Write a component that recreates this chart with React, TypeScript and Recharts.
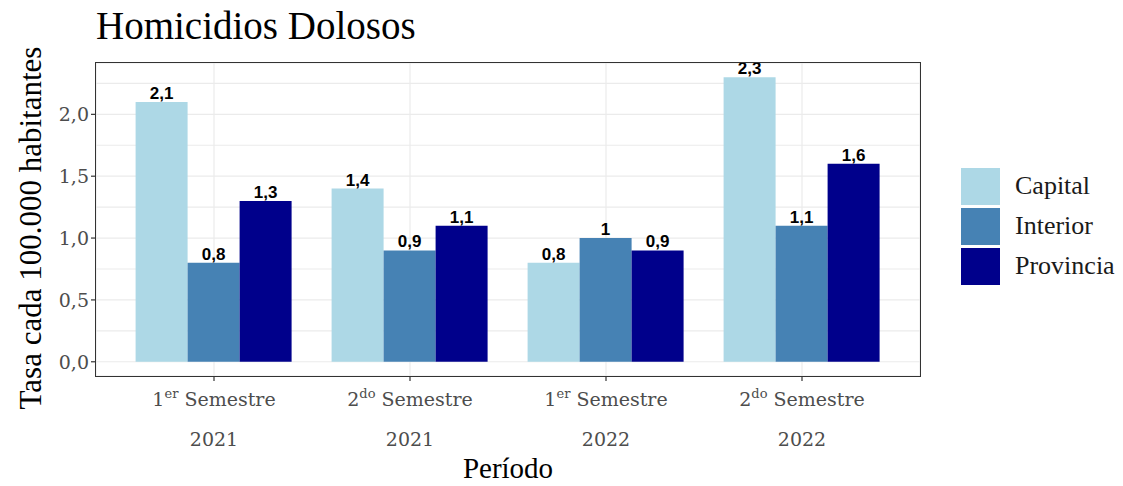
import React from 'react';
import {
  BarChart, Bar, XAxis, YAxis, CartesianGrid, LabelList
} from 'recharts';

// periods on the x axis (ordinal part, superscript, year)
const semesterNum = ['1', '2', '1', '2'];
const semesterSup = ['er', 'do', 'er', 'do'];
const years = ['2021', '2021', '2022', '2022'];

// rates per 100.000 inhabitants
const capital = [2.1, 1.4, 0.8, 2.3];
const interior = [0.8, 0.9, 1.0, 1.1];
const provincia = [1.3, 1.1, 0.9, 1.6];

const yTicks = [0, 0.5, 1, 1.5, 2];
const gridTicks = [0, 0.25, 0.5, 0.75, 1, 1.25, 1.5, 1.75, 2, 2.25];
const yDomain = [-0.115, 2.415];

const series = [
  { key: 'Capital', color: '#ADD8E6' },
  { key: 'Interior', color: '#4682B4' },
  { key: 'Provincia', color: '#00008B' },
];

const data = years.map((y, i) => ({
  period: `${semesterNum[i]}${semesterSup[i]} Semestre ${y}`,
  Capital: capital[i],
  Interior: interior[i],
  Provincia: provincia[i],
}));

const serif = '"Liberation Serif", "Times New Roman", serif';
const tickSerif = '"DejaVu Serif", serif';
const border = '#333333';
const comma = (v: any) => String(v).replace('.', ',');

const PeriodTick = ({ x, y, payload }: any) => {
  const i = payload.index;
  return (
    <g transform={`translate(${x},${y})`}>
      <text textAnchor="middle" fontFamily={tickSerif} fontSize={19} fill="#4d4d4d">
        <tspan x={0} dy={23}>{semesterNum[i]}</tspan>
        <tspan dy={-8} fontSize={13}>{semesterSup[i]}</tspan>
        <tspan dy={8}> Semestre</tspan>
      </text>
      <text x={0} y={63} textAnchor="middle" fontFamily={tickSerif} fontSize={19} fill="#4d4d4d">
        {years[i]}
      </text>
    </g>
  );
};

export default function App() {
  return (
    <div style={{ position: 'absolute', left: 0, top: 0, width: 1123, height: 486, background: '#fff' }}>
      <div style={{ position: 'absolute', left: 96, top: 3, fontFamily: serif, fontSize: 39, color: '#000', lineHeight: 1.2 }}>
        Homicidios Dolosos
      </div>
      <div style={{ position: 'absolute', left: 961, top: 166, fontFamily: serif, fontSize: 26, color: '#1a1a1a' }}>
        {series.map((s) => (
          <div key={s.key} style={{ display: 'flex', alignItems: 'center', height: 40 }}>
            <div style={{ width: 39, height: 37, background: s.color, marginRight: 15 }} />
            <span>{s.key}</span>
          </div>
        ))}
      </div>
      <BarChart
        width={1123}
        height={486}
        data={data}
        margin={{ top: 63, right: 203, bottom: 30, left: 36 }}
        barCategoryGap="10%"
        barGap={0}
      >
        <CartesianGrid yAxisId="grid" stroke="#ebebeb" strokeWidth={1.2} />
        <XAxis
          dataKey="period"
          height={80}
          padding={{ left: 20, right: 20 }}
          tick={<PeriodTick />}
          tickLine={{ stroke: border, strokeWidth: 1.2 }}
          tickSize={5}
          axisLine={false}
          interval={0}
          label={({ viewBox }: any) => (
            <text
              x={viewBox.x + viewBox.width / 2}
              y={478}
              textAnchor="middle"
              fontFamily={serif}
              fontSize={29}
              fill="#000"
            >
              Período
            </text>
          )}
        />
        <YAxis
          width={60}
          domain={yDomain}
          allowDataOverflow
          ticks={yTicks}
          tickFormatter={(v: number) => v.toFixed(1).replace('.', ',')}
          tick={{ fontFamily: tickSerif, fontSize: 19, fill: '#4d4d4d' }}
          tickLine={{ stroke: border, strokeWidth: 1.2 }}
          tickSize={5}
          axisLine={false}
          label={() => (
            <text
              x={30}
              y={228}
              transform="rotate(-90, 30, 228)"
              textAnchor="middle"
              dominantBaseline="central"
              fontFamily={serif}
              fontSize={31}
              fill="#000"
            >
              Tasa cada 100.000 habitantes
            </text>
          )}
        />
        <YAxis yAxisId="grid" hide domain={yDomain} allowDataOverflow ticks={gridTicks} />
        {series.map((s) => (
          <Bar key={s.key} dataKey={s.key} fill={s.color} isAnimationActive={false}>
            <LabelList
              dataKey={s.key}
              position="top"
              offset={3}
              formatter={comma}
              style={{ fontFamily: '"Liberation Sans", Arial, sans-serif', fontWeight: 700, fontSize: 17, fill: '#000' }}
            />
          </Bar>
        ))}
      </BarChart>
      {/* panel border (theme_bw style) */}
      <div
        style={{
          position: 'absolute', left: 95, top: 62, width: 824, height: 313,
          border: `1.5px solid ${border}`, pointerEvents: 'none',
        }}
      />
    </div>
  );
}
